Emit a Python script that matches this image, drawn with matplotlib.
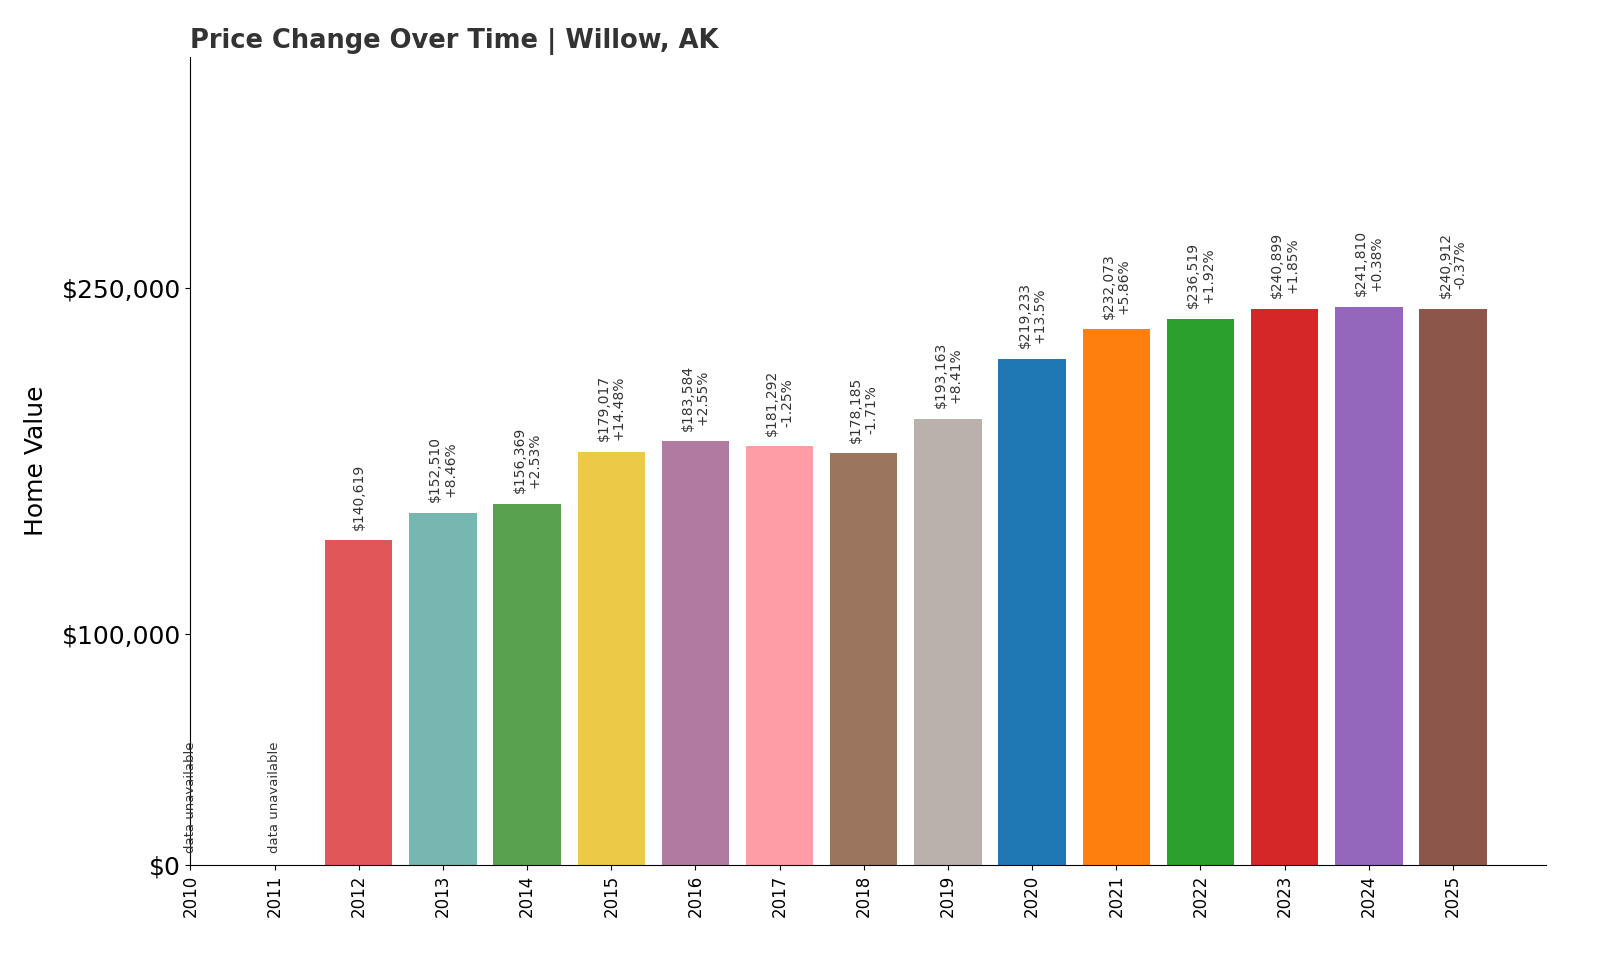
import matplotlib
matplotlib.use("Agg")
import matplotlib.pyplot as plt

years = list(range(2010, 2026))
values = [None, None, 140619, 152510, 156369, 179017, 183584, 181292, 178185, 193163,
          219233, 232073, 236519, 240899, 241810, 240912]
changes = [None, None, None, "+8.46%", "+2.53%", "+14.48%", "+2.55%", "-1.25%", "-1.71%",
           "+8.41%", "+13.5%", "+5.86%", "+1.92%", "+1.85%", "+0.38%", "-0.37%"]
colors = [None, None, "#e15759", "#76b7b2", "#59a14f", "#edc948", "#b07aa1", "#ff9da7",
          "#9c755f", "#bab0ac", "#1f77b4", "#ff7f0e", "#2ca02c", "#d62728", "#9467bd", "#8c564b"]

fig = plt.figure(figsize=(16, 9.6), dpi=100)
ax = fig.add_axes([0.119, 0.099, 0.847, 0.842])
for y, v, c, col in zip(years, values, changes, colors):
    if v is None:
        ax.text(y, 5000, "data unavailable", rotation=90, ha="center", va="bottom",
                fontsize=9.5, color="#333333")
        continue
    ax.bar(y, v, width=0.8, color=col)
    lab = f"${v:,}" + (f"\n{c}" if c else "")
    ax.text(y, v + 4500, lab, rotation=90, ha="center", va="bottom", fontsize=10,
            color="#333333", linespacing=1.1)

ax.set_xlim(2010, 2026.1)
ax.set_ylim(0, 350000)
ax.set_yticks([0, 100000, 250000])
ax.set_yticklabels(["$0", "$100,000", "$250,000"], fontsize=18)
ax.set_xticks(years)
ax.set_xticklabels([str(y) for y in years], rotation=90, fontsize=12)
ax.spines["top"].set_visible(False)
ax.spines["right"].set_visible(False)
ax.set_ylabel("Home Value", fontsize=18, labelpad=10)
ax.set_title("Price Change Over Time | Willow, AK", loc="left", fontsize=18.5,
             fontweight="bold", color="#333333")
fig.savefig("out.png", dpi=100)
